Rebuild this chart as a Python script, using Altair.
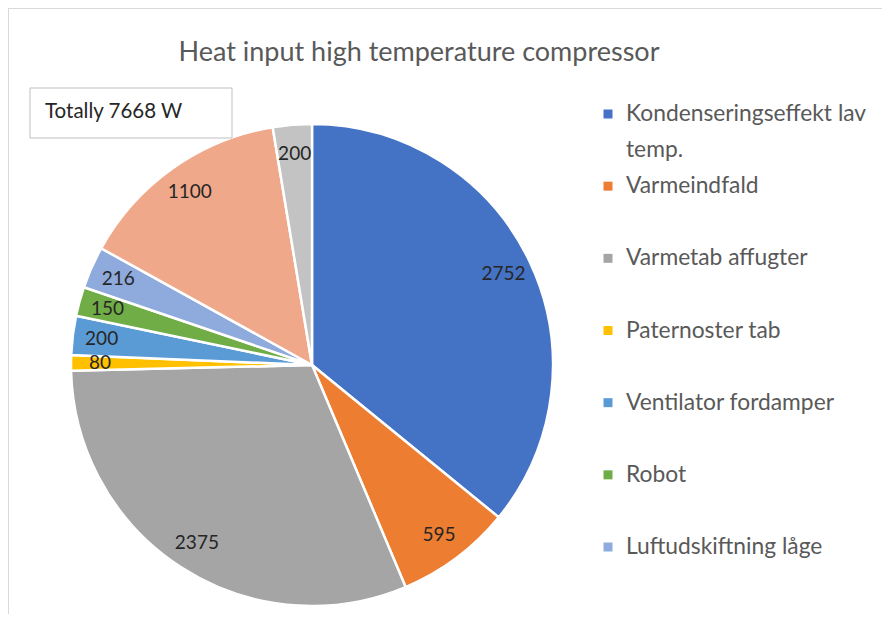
import altair as alt
import pandas as pd

categories = [
    "Kondenseringseffekt lav temp.",
    "Varmeindfald",
    "Varmetab affugter",
    "Paternoster tab",
    "Ventilator fordamper",
    "Robot",
    "Luftudskiftning låge",
    "Kategori 8",
    "Kategori 9",
]
values = [2752, 595, 2375, 80, 200, 150, 216, 1100, 200]
colors = ["#4472C4", "#ED7D31", "#A5A5A5", "#FFC000", "#5B9BD5",
          "#70AD47", "#8FAADC", "#F0A88A", "#C3C3C3"]
legend_count = 7  # only first seven entries are visible in the legend
title_text = "Heat input high temperature compressor"
total_text = f"Totally {sum(values)} W"

FONT = "Lato"

df = pd.DataFrame({"category": categories, "value": values,
                   "order": list(range(len(values)))})

color_scale = alt.Scale(domain=categories, range=colors)

CX, CY, R = 304, 357, 241

pie = alt.Chart(df).mark_arc(outerRadius=R, stroke="white", strokeWidth=2.5).encode(
    theta=alt.Theta("value:Q", stack=True),
    color=alt.Color("category:N", scale=color_scale, legend=None),
    order=alt.Order("order:Q"),
    x=alt.value(CX), y=alt.value(CY),
)

labels = alt.Chart(df).mark_text(radius=212, fontSize=19, font=FONT,
                                 color="#262626").encode(
    theta=alt.Theta("value:Q", stack=True),
    order=alt.Order("order:Q"),
    text=alt.Text("value:Q"),
    x=alt.value(CX), y=alt.value(CY),
)

# legend rows (wrapped)
def wrap(s, limit=23):
    if len(s) <= limit:
        return [s]
    cut = s.rfind(" ", 0, limit + 1)
    return [s[:cut], s[cut + 1:]]

rows = []
for i in range(legend_count):
    for j, line in enumerate(wrap(categories[i])):
        rows.append({"category": categories[i], "line": line,
                     "pos": i + 0.5 * j, "first": j == 0})
leg_df = pd.DataFrame(rows)
leg_y = alt.Scale(domain=[0, legend_count - 1], range=[106, 539], zero=False, nice=False)

leg_sq = alt.Chart(leg_df[leg_df["first"]]).mark_square(size=81, opacity=1).encode(
    x=alt.value(600),
    y=alt.Y("pos:Q", scale=leg_y, axis=None),
    color=alt.Color("category:N", scale=color_scale, legend=None),
)
leg_txt = alt.Chart(leg_df).mark_text(align="left", baseline="middle", fontSize=22.8,
                                      font=FONT, color="#595959").encode(
    x=alt.value(618),
    y=alt.Y("pos:Q", scale=leg_y, axis=None),
    text="line:N",
)

one = pd.DataFrame({"t": [title_text], "total": [total_text]})

title = alt.Chart(one).mark_text(fontSize=27, font=FONT, color="#595959",
                                 baseline="middle", align="center").encode(
    x=alt.value(411), y=alt.value(45), text="t:N")

box = alt.Chart(one).mark_rect(fill="white", stroke="#BFBFBF", strokeWidth=1).encode(
    x=alt.value(22), x2=alt.value(224), y=alt.value(80), y2=alt.value(130))
box_txt = alt.Chart(one).mark_text(fontSize=20.5, font=FONT, color="#262626",
                                   align="left", baseline="middle").encode(
    x=alt.value(37), y=alt.value(104), text="total:N")

border_top = alt.Chart(one).mark_rule(color="#D9D9D9", strokeWidth=1).encode(
    x=alt.value(0), x2=alt.value(874), y=alt.value(0.5))
border_left = alt.Chart(one).mark_rule(color="#D9D9D9", strokeWidth=1).encode(
    x=alt.value(0.5), y=alt.value(0), y2=alt.value(606))

chart = alt.layer(border_top, border_left, pie, labels, box, box_txt, title,
                  leg_sq, leg_txt).properties(
    width=874, height=606, padding=0,
    autosize=alt.AutoSizeParams(type="none"),
).configure_view(strokeWidth=0)

chart.save("out.html", embed_options={"renderer": "svg", "actions": False})
